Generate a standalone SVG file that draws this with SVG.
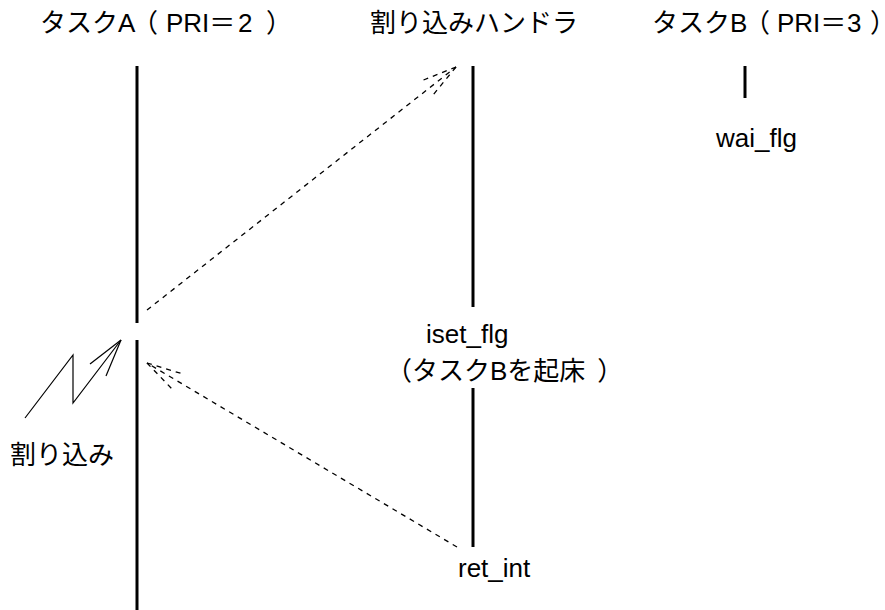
<svg xmlns="http://www.w3.org/2000/svg" width="885" height="610" viewBox="0 0 885 610">
  <style>
    .t { font-family: "Liberation Sans", "Noto Sans CJK JP", sans-serif; font-size: 26px; fill: #000; }
    .p { font-feature-settings: "palt" 1; }
    .life { stroke: #000; stroke-width: 3; fill: none; }
    .dash { stroke: #000; stroke-width: 1.3; stroke-dasharray: 5 5; fill: none; }
    .bolt { stroke: #000; stroke-width: 1.2; fill: none; }
  </style>
  <rect width="885" height="610" fill="#fff"/>

  <g id="taskA">
    <text class="t" x="40" y="32">タスクA<tspan class="p" x="144">（</tspan><tspan x="166">PRI</tspan><tspan class="p">＝</tspan><tspan x="238">2</tspan><tspan class="p" x="267">）</tspan></text>
    <line class="life" x1="137" y1="66" x2="137" y2="323"/>
    <line class="life" x1="137" y1="340" x2="137" y2="610"/>
  </g>

  <g id="handler">
    <text class="t" x="370" y="32">割り込みハンドラ</text>
    <line class="life" x1="473" y1="66" x2="473" y2="307"/>
    <line class="life" x1="473" y1="388" x2="473" y2="547"/>
    <text class="t" x="426" y="343">iset_flg</text>
    <text class="t" x="386" y="380">（タスクBを起床<tspan dx="12">）</tspan></text>
    <text class="t" x="458" y="577">ret_int</text>
  </g>

  <g id="taskB">
    <text class="t" x="652" y="32">タスクB<tspan class="p" x="756">（</tspan><tspan x="777">PRI</tspan><tspan class="p">＝</tspan><tspan x="847">3</tspan><tspan class="p" x="871">）</tspan></text>
    <line class="life" x1="745" y1="66" x2="745" y2="98"/>
    <text class="t" x="716" y="147">wai_flg</text>
  </g>

  <g id="interrupt">
    <polyline class="bolt" points="25,418 73,355 73,403 121,340"/>
    <line class="bolt" x1="121" y1="340" x2="90" y2="364"/>
    <line class="bolt" x1="121" y1="340" x2="106" y2="376"/>
    <text class="t" x="10" y="464">割り込み</text>
  </g>

  <g id="connectors">
    <line class="dash" x1="147" y1="310" x2="456" y2="67"/>
    <line class="dash" x1="456" y1="67" x2="421" y2="81"/>
    <line class="dash" x1="456" y1="67" x2="433" y2="95"/>
    <line class="dash" x1="457" y1="547" x2="147" y2="363"/>
    <line class="dash" x1="147" y1="363" x2="183" y2="374"/>
    <line class="dash" x1="147" y1="363" x2="173" y2="390"/>
  </g>
</svg>
